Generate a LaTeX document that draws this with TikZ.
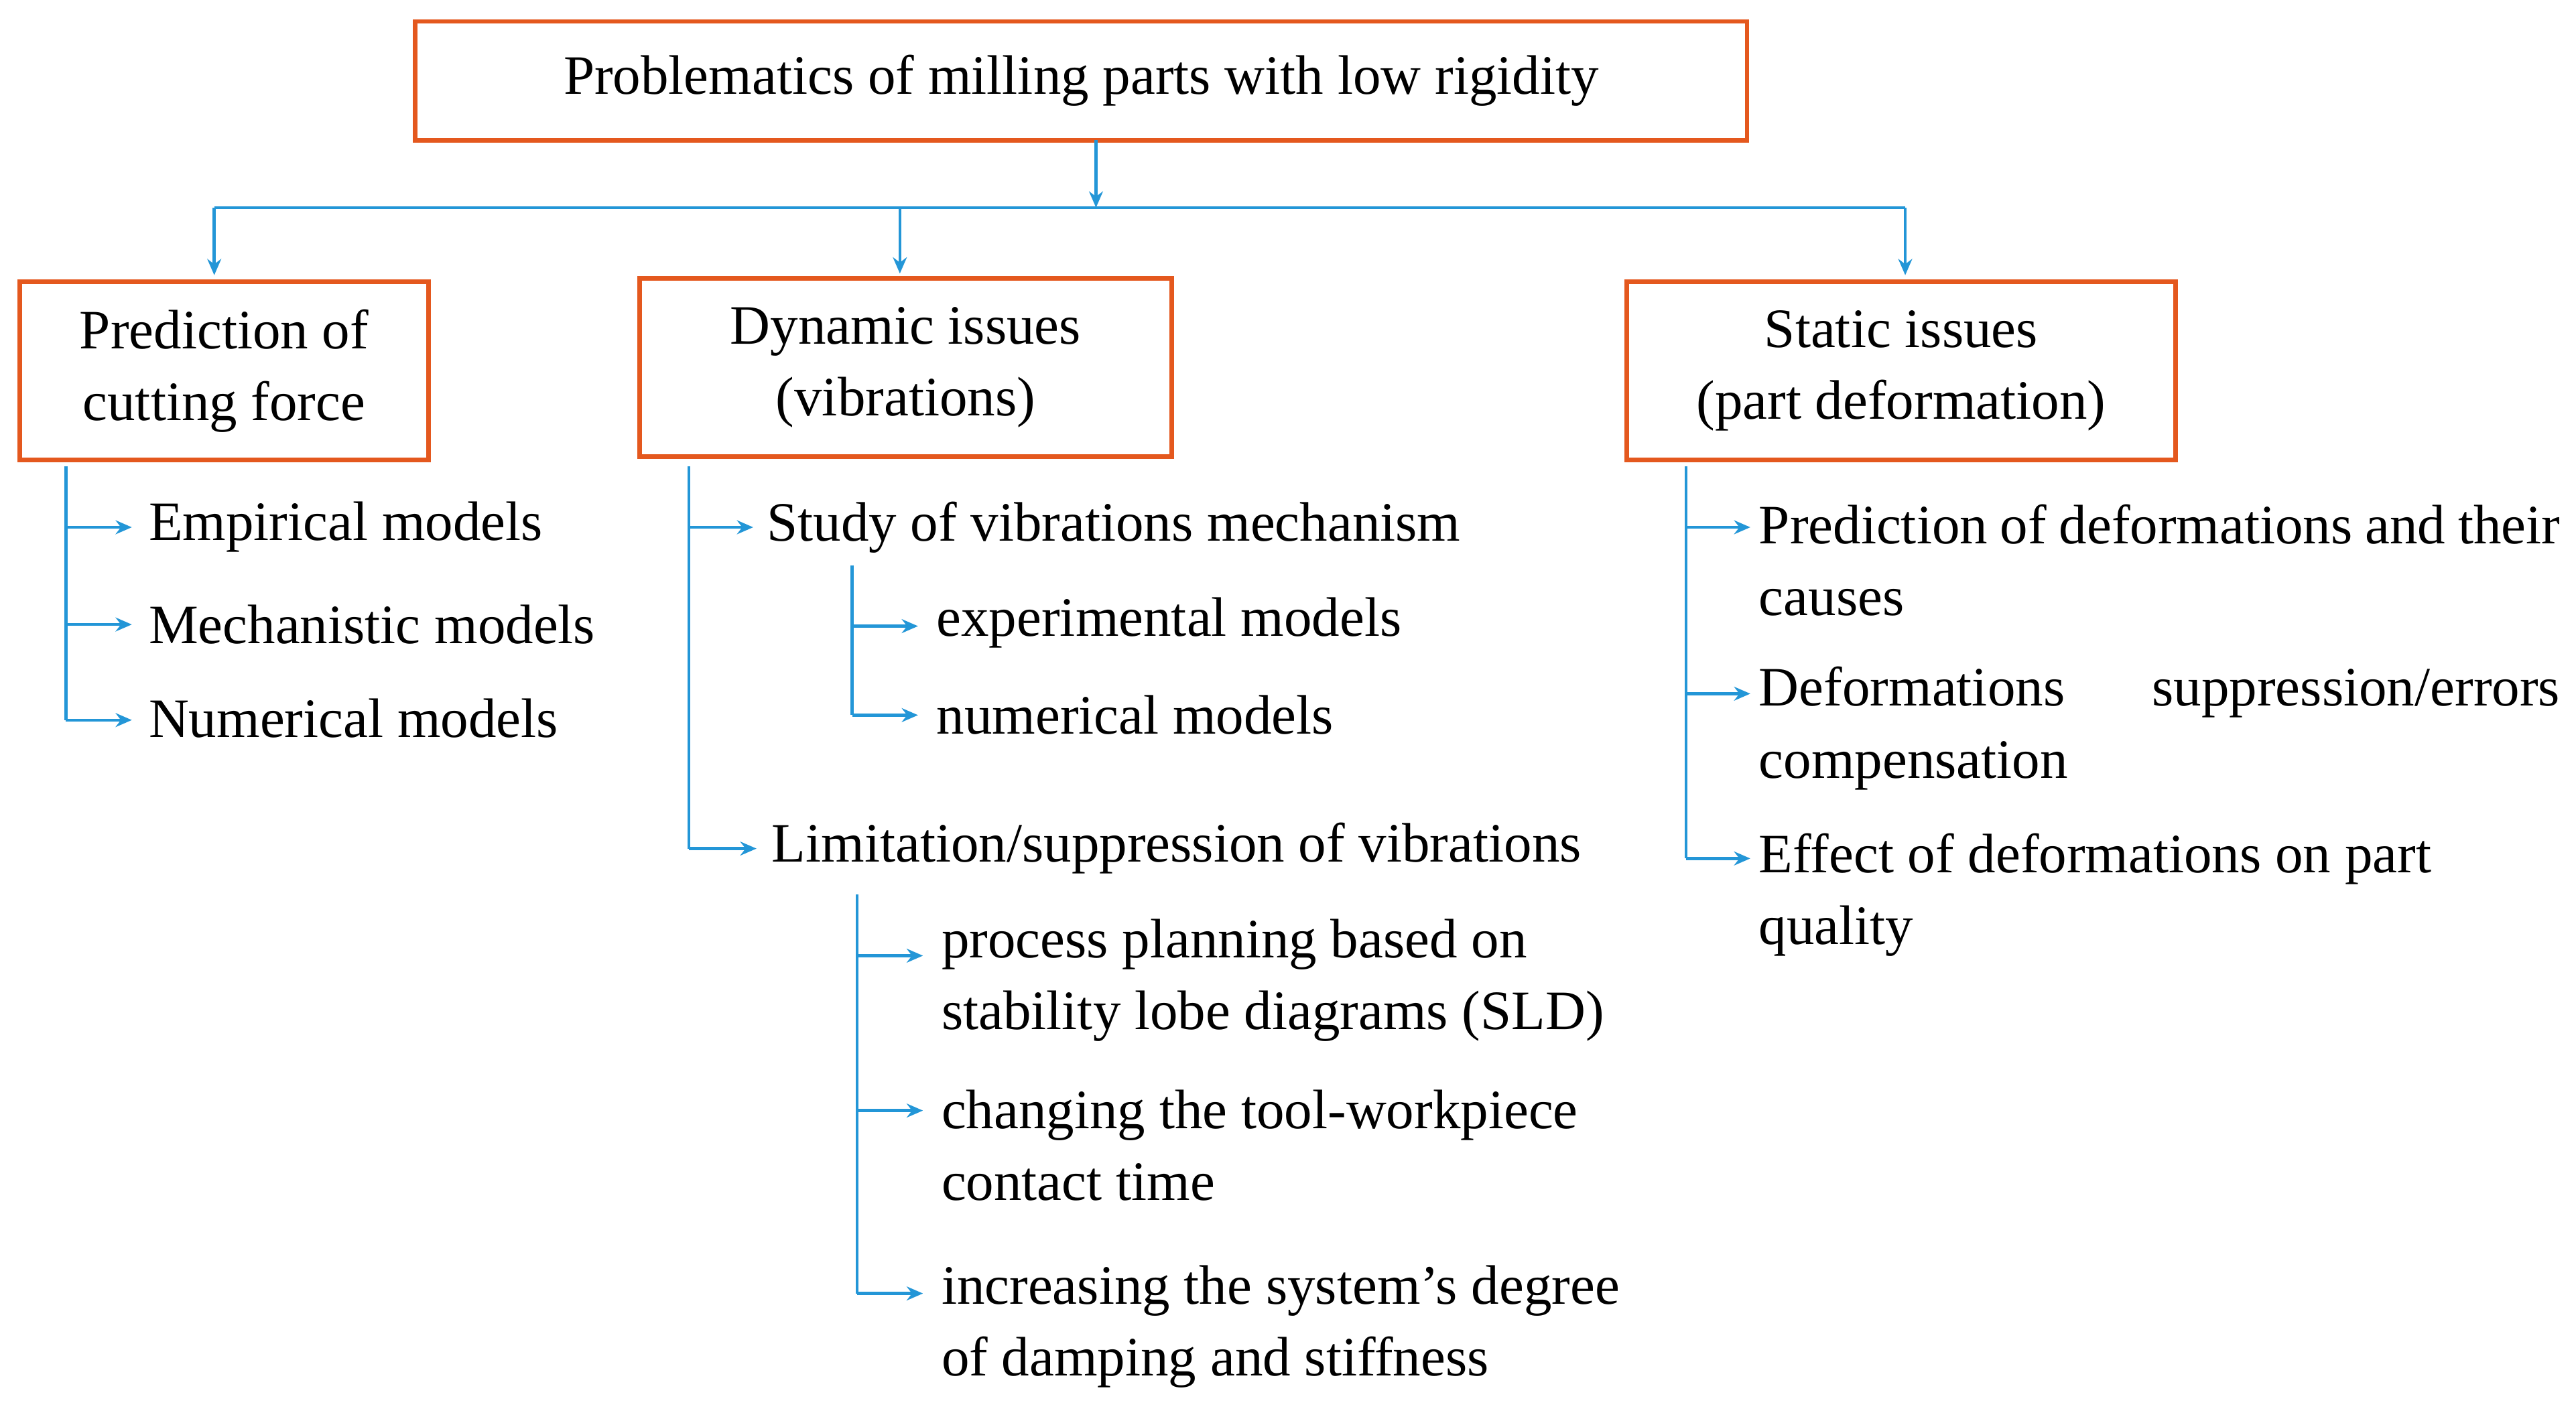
\documentclass[tikz,border=0pt]{standalone}
\usepackage{fontspec}
\setmainfont{Liberation Serif}
\usetikzlibrary{arrows.meta}
\definecolor{org}{RGB}{228,88,30}
\definecolor{blu}{RGB}{35,150,215}
\begin{document}
\begin{tikzpicture}[x=0.025cm,y=-0.025cm,
  box/.style={draw=org,line width=2pt,fill=white,inner sep=0,align=center,font=\fontsize{24}{31}\selectfont},
  txt/.style={anchor=west,inner sep=0,align=left,font=\fontsize{24}{31}\selectfont},
  ln/.style={draw=blu,line width=1.3pt},
  ar/.style={ln,-{Stealth[length=7pt,width=6pt]}}]
\useasboundingbox (0,0) rectangle (1563,861);
\node[box,minimum width=808*0.025cm,minimum height=72*0.025cm] (top) at (656,49) {Problematics of milling parts with low rigidity};
\node[box,minimum width=248*0.025cm,minimum height=108*0.025cm] (b1) at (136,225) {Prediction of\\cutting force};
\node[box,minimum width=323*0.025cm,minimum height=108*0.025cm] (b2) at (549.5,223) {Dynamic issues\\(vibrations)};
\node[box,minimum width=333*0.025cm,minimum height=108*0.025cm] (b3) at (1153.5,225) {Static issues\\(part deformation)};
% bus
\coordinate (t0) at (665,85); \coordinate (t1) at (665,126);
\coordinate (bl) at (130,126); \coordinate (bm) at (546,126); \coordinate (br) at (1156,126);
\draw[ar] (t0) -- (t1);
\draw[ln] (bl) -- (br);
\draw[ar] (bl) -- (130,167);
\draw[ar] (bm) -- (546,166);
\draw[ar] (br) -- (1156,167);
% left
\node[txt] (l1) at (90,320) {Empirical models};
\node[txt] (l2) at (90,379) {Mechanistic models};
\node[txt] (l3) at (90,436) {Numerical models};
\draw[ln] (40,283) -- (40,437);
\foreach \y in {320,379,437}{\draw[ar] (40,\y) -- (80,\y);}
% middle
\node[txt] (m1) at (465,320) {Study of vibrations mechanism};
\node[txt] (m2) at (468,515) {Limitation/suppression of vibrations};
\draw[ln] (418,283) -- (418,515);
\draw[ar] (418,320) -- (457,320);
\draw[ar] (418,515) -- (459,515);
\node[txt] (s1) at (568,378) {experimental models};
\node[txt] (s2) at (568,434) {numerical models};
\draw[ln] (517,343) -- (517,434);
\draw[ar] (517,380) -- (557,380);
\draw[ar] (517,434) -- (557,434);
\node[txt] (p1) at (571,595) {process planning based on\\stability lobe diagrams (SLD)};
\node[txt] (p2) at (571,695) {changing the tool-workpiece\\contact time};
\node[txt] (p3) at (571,805) {increasing the system’s degree\\of damping and stiffness};
\draw[ln] (520,543) -- (520,785);
\draw[ar] (520,580) -- (560,580);
\draw[ar] (520,674) -- (560,674);
\draw[ar] (520,785) -- (560,785);
% right
\node[txt,text width=486*0.025cm,align=justify] (r1) at (1067,340) {Prediction of deformations and their causes};
\node[txt,text width=486*0.025cm,align=justify] (r2) at (1067,442) {Deformations suppression/errors compensation};
\node[txt] (r3) at (1067,543) {Effect of deformations on part\\quality};
\draw[ln] (1023,283) -- (1023,521);
\draw[ar] (1023,320) -- (1062,320);
\draw[ar] (1023,421) -- (1062,421);
\draw[ar] (1023,521) -- (1062,521);
\end{tikzpicture}
\end{document}
